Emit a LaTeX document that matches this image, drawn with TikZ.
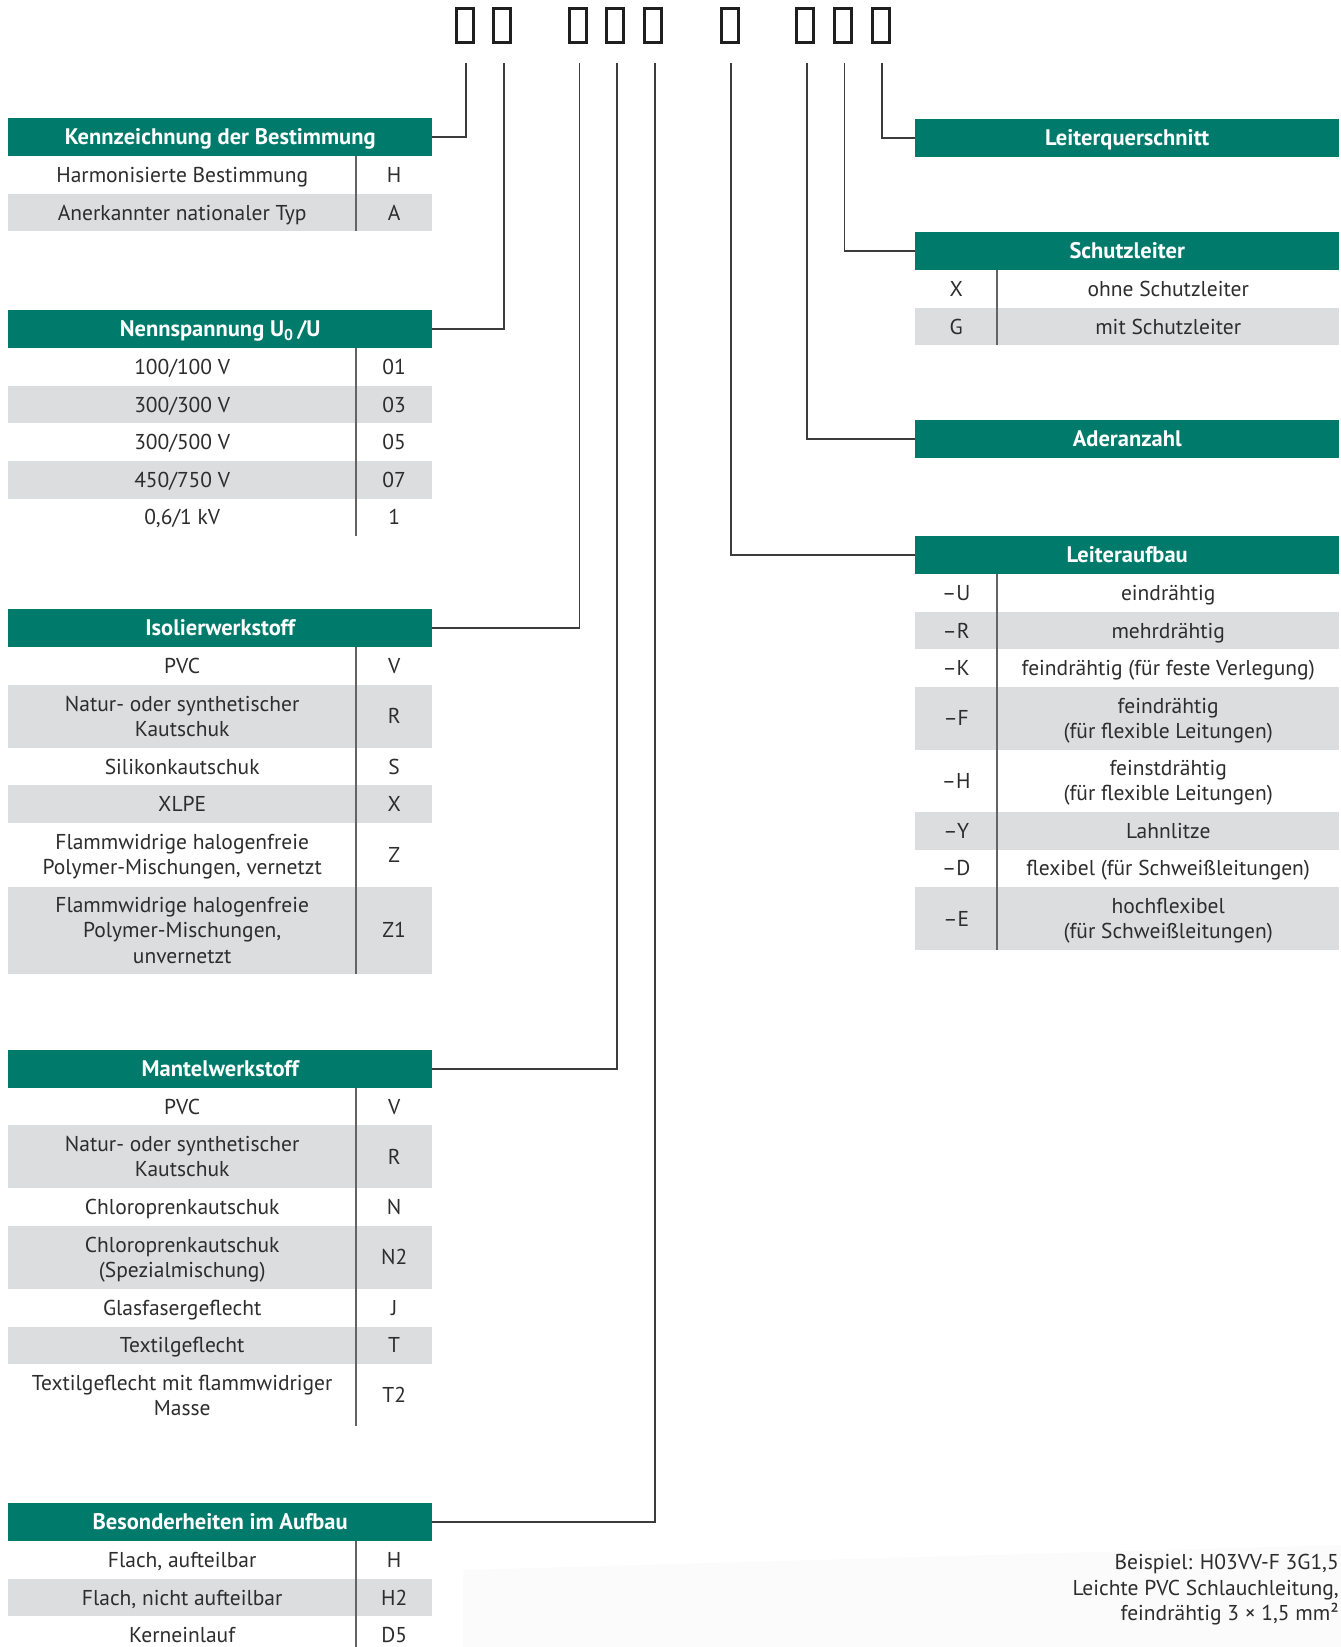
\documentclass[tikz,border=0pt]{standalone}
\usepackage{fontspec}
\setmainfont{PT Sans}
\definecolor{hdrgreen}{RGB}{0,122,106}
\definecolor{rowgray}{RGB}{220,221,223}
\definecolor{txtgray}{RGB}{45,45,45}
\definecolor{linegray}{RGB}{60,60,60}
\definecolor{divgray}{RGB}{100,100,100}

% struts that fix the vertical position of cell text
\newcommand\celltop{\vrule width0pt height20pt depth0pt}
\newcommand\cellbot{\vrule width0pt height0pt depth5pt}
% left table row: name, top, height, fill, description, code
\newcommand\rowL[6]{%
  \node[cellbox,fill=#4,minimum width=348pt,minimum height=#3pt] (#1) at (8,#2) {\celltop#5\cellbot};
  \node[cellbox,fill=#4,minimum width=76pt,minimum height=#3pt] (#1-c) at (356,#2) {\celltop#6\cellbot};}
% right table row: name, top, height, fill, description, code
\newcommand\rowR[6]{%
  \node[cellbox,fill=#4,minimum width=82pt,minimum height=#3pt] (#1-c) at (915,#2) {\celltop#6\cellbot};
  \node[cellbox,fill=#4,minimum width=342pt,minimum height=#3pt] (#1) at (997,#2) {\celltop#5\cellbot};}

\begin{document}
\begin{tikzpicture}[x=1pt,y=-1pt,
  hdr/.style={fill=hdrgreen,text=white,font=\bfseries\fontsize{22.5}{26}\selectfont,
    minimum width=424pt,minimum height=38pt,inner sep=0pt,anchor=north west,
    execute at begin node={\vrule width0pt height20pt depth5pt}},
  cellbox/.style={anchor=north west,inner sep=0pt,align=center,text=txtgray,
    font=\fontsize{21.5}{25.3}\selectfont},
  slot/.style={draw=black!88,line width=3pt,minimum width=17pt,minimum height=34pt,inner sep=0pt},
  conn/.style={draw=linegray,line width=1.6pt},
  divider/.style={draw=divgray,line width=1.4pt}]
\useasboundingbox (0,0) rectangle (1341,1647);

% faint paper tone in the lower right corner
\fill[black!1.5] (463,1570) -- (1341,1545) -- (1341,1647) -- (463,1647) -- cycle;

% code slots
\foreach \n/\x in {1/464.5,2/502,3/577.5,4/615.3,5/653.2,6/730.3,7/804.5,8/842.5,9/880.5}
  \node[slot] (d\n) at (\x,25) {};
\foreach \n/\x in {1/466,2/503.7,3/579.3,4/617,5/655,6/731,7/806.7,8/844.3,9/881.7}
  \coordinate (c\n) at (\x,63);

% ---- Kennzeichnung der Bestimmung
\node[hdr] (kz) at (8,118) {Kennzeichnung der Bestimmung};
\rowL{kzH}{156}{37.6}{white}{Harmonisierte Bestimmung}{H}
\rowL{kzA}{193.6}{37.6}{rowgray}{Anerkannter nationaler Typ}{A}
\draw[divider] (356,156) -- (356,231.2);

% ---- Nennspannung
\node[hdr] (ns) at (8,310) {Nennspannung U\textsubscript{0}\,/U};
\rowL{ns1}{348}{37.6}{white}{100/100 V}{01}
\rowL{ns2}{385.6}{37.6}{rowgray}{300/300 V}{03}
\rowL{ns3}{423.2}{37.6}{white}{300/500 V}{05}
\rowL{ns4}{460.8}{37.6}{rowgray}{450/750 V}{07}
\rowL{ns5}{498.4}{37.6}{white}{0,6/1 kV}{1}
\draw[divider] (356,348) -- (356,536);

% ---- Isolierwerkstoff
\node[hdr] (iw) at (8,609) {Isolierwerkstoff};
\rowL{iw1}{647}{37.6}{white}{PVC}{V}
\rowL{iw2}{684.6}{63}{rowgray}{Natur- oder synthetischer\\Kautschuk}{R}
\rowL{iw3}{747.6}{37.6}{white}{Silikonkautschuk}{S}
\rowL{iw4}{785.2}{37.6}{rowgray}{XLPE}{X}
\rowL{iw5}{822.8}{63.5}{white}{Flammwidrige halogenfreie\\Polymer-Mischungen, vernetzt}{Z}
\rowL{iw6}{886.3}{87.5}{rowgray}{Flammwidrige halogenfreie\\Polymer-Mischungen,\\unvernetzt}{Z1}
\draw[divider] (356,647) -- (356,973.8);

% ---- Mantelwerkstoff
\node[hdr] (mw) at (8,1050) {Mantelwerkstoff};
\rowL{mw1}{1087.5}{37.6}{white}{PVC}{V}
\rowL{mw2}{1125.1}{63}{rowgray}{Natur- oder synthetischer\\Kautschuk}{R}
\rowL{mw3}{1188.1}{37.6}{white}{Chloroprenkautschuk}{N}
\rowL{mw4}{1225.7}{63}{rowgray}{Chloroprenkautschuk\\(Spezialmischung)}{N2}
\rowL{mw5}{1288.7}{37.6}{white}{Glasfasergeflecht}{J}
\rowL{mw6}{1326.3}{37.6}{rowgray}{Textilgeflecht}{T}
\rowL{mw7}{1363.9}{62.5}{white}{Textilgeflecht mit flammwidriger\\Masse}{T2}
\draw[divider] (356,1087.5) -- (356,1426.4);

% ---- Besonderheiten im Aufbau
\node[hdr] (ba) at (8,1503) {Besonderheiten im Aufbau};
\rowL{ba1}{1541}{37.6}{white}{Flach, aufteilbar}{H}
\rowL{ba2}{1578.6}{37.6}{rowgray}{Flach, nicht aufteilbar}{H2}
\rowL{ba3}{1616.2}{37.6}{white}{Kerneinlauf}{D5}
\draw[divider] (356,1541) -- (356,1647);

% ---- Leiterquerschnitt
\node[hdr] (lq) at (915,118.5) {Leiterquerschnitt};

% ---- Schutzleiter
\node[hdr] (sl) at (915,232) {Schutzleiter};
\rowR{sl1}{270}{37.6}{white}{ohne Schutzleiter}{X}
\rowR{sl2}{307.6}{37.6}{rowgray}{mit Schutzleiter}{G}
\draw[divider] (997,270) -- (997,345.2);

% ---- Aderanzahl
\node[hdr] (aa) at (915,420) {Aderanzahl};

% ---- Leiteraufbau
\node[hdr] (la) at (915,536) {Leiteraufbau};
\rowR{la1}{574}{37.6}{white}{eindrähtig}{–U}
\rowR{la2}{611.6}{37.6}{rowgray}{mehrdrähtig}{–R}
\rowR{la3}{649.2}{37.6}{white}{feindrähtig (für feste Verlegung)}{–K}
\rowR{la4}{686.8}{62.5}{rowgray}{feindrähtig\\(für flexible Leitungen)}{–F}
\rowR{la5}{749.3}{62.5}{white}{feinstdrähtig\\(für flexible Leitungen)}{–H}
\rowR{la6}{811.8}{37.6}{rowgray}{Lahnlitze}{–Y}
\rowR{la7}{849.4}{37.6}{white}{flexibel (für Schweißleitungen)}{–D}
\rowR{la8}{887}{63}{rowgray}{hochflexibel\\(für Schweißleitungen)}{–E}
\draw[divider] (997,574) -- (997,950);

% ---- connectors from the code slots to the tables
\draw[conn] (c1) |- (kz.east);
\draw[conn] (c2) |- (ns.east);
\draw[conn] (c3) |- (iw.east);
\draw[conn] (c4) |- (mw.east);
\draw[conn] (c5) |- (ba.east);
\draw[conn] (c6) |- (la.west);
\draw[conn] (c7) |- (aa.west);
\draw[conn] (c8) |- (sl.west);
\draw[conn] (c9) |- (lq.west);

% ---- example
\node[anchor=east,align=right,text=txtgray,inner sep=0pt,
  font=\fontsize{21.5}{25.5}\selectfont] (ex) at (1339,1590)
  {Beispiel: H03VV-F 3G1,5\\Leichte PVC Schlauchleitung,\\feindrähtig 3 × 1,5 mm²};
\end{tikzpicture}
\end{document}
